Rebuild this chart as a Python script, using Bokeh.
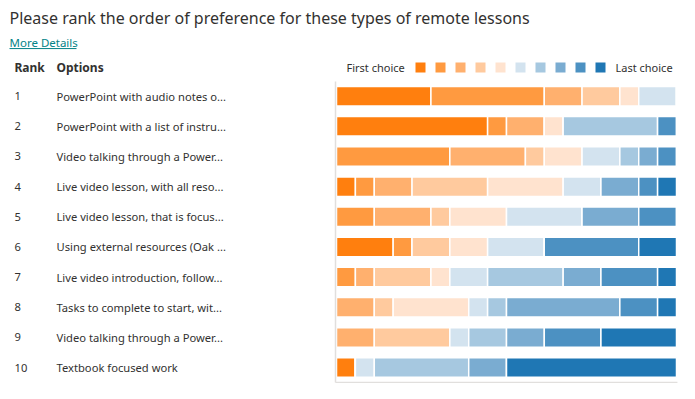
from bokeh.plotting import figure
from bokeh.models import Range1d, ColumnDataSource
from bokeh.core.properties import value
from bokeh.embed import file_html
from bokeh.resources import INLINE

title_text = "Please rank the order of preference for these types of remote lessons"
ranks = [1, 2, 3, 4, 5, 6, 7, 8, 9, 10]
options = [
    "PowerPoint with audio notes o...",
    "PowerPoint with a list of instru...",
    "Video talking through a Power...",
    "Live video lesson, with all reso...",
    "Live video lesson, that is focus...",
    "Using external resources (Oak ...",
    "Live video introduction, follow...",
    "Tasks to complete to start, wit...",
    "Video talking through a Power...",
    "Textbook focused work",
]
choice_1 = [5, 8, 0, 1, 0, 3, 0, 0, 0, 1]
choice_2 = [6, 1, 6, 1, 2, 1, 1, 0, 0, 0]
choice_3 = [2, 2, 4, 2, 3, 0, 1, 2, 2, 0]
choice_4 = [2, 0, 1, 4, 1, 2, 3, 1, 4, 0]
choice_5 = [1, 1, 2, 4, 3, 2, 1, 4, 0, 0]
choice_6 = [2, 0, 2, 2, 4, 3, 2, 1, 1, 1]
choice_7 = [0, 5, 1, 0, 0, 0, 4, 1, 2, 5]
choice_8 = [0, 0, 1, 2, 3, 0, 2, 6, 2, 2]
choice_9 = [0, 1, 1, 1, 2, 5, 3, 2, 3, 0]
choice_10 = [0, 0, 0, 1, 0, 2, 1, 1, 4, 9]
colors = ["#ff7f0e", "#ff9a40", "#ffb06e", "#ffca9e", "#ffe3cf",
          "#d3e3ef", "#a6c8e0", "#7aacd1", "#4c91c2", "#1f77b4"]
total = 18

W, H = 679, 383
FONT = "Noto Sans"
TXT = "#323130"

# layout geometry (canvas pixels)
K = 0.971


def yy(v):
    return 17 + (v - 18) * K


BAR_L, BAR_R = 336, 676
S = (BAR_R - BAR_L) / total
XS = -BAR_L / S
XE = (W - BAR_L) / S
ROW = 31.06 * K
ROW1 = yy(99)
YT = 1 - ROW1 / ROW
YB = YT + H / ROW


def px(x):
    return XS + x / S


def py(y):
    return YT + y / ROW


p = figure(width=W, height=H, output_backend="svg", toolbar_location=None,
           x_range=Range1d(XS, XE), y_range=Range1d(YB, YT),
           min_border=0, min_border_left=0, min_border_right=0,
           min_border_top=0, min_border_bottom=0)
p.axis.visible = False
p.grid.visible = False
p.outline_line_color = None
p.background_fill_color = "white"

names = [f"c{i+1}" for i in range(10)]
data = dict(rank=ranks)
for n, arr in zip(names, [choice_1, choice_2, choice_3, choice_4, choice_5,
                          choice_6, choice_7, choice_8, choice_9, choice_10]):
    data[n] = arr
src = ColumnDataSource(data)
p.hbar_stack(names, y="rank", height=19.5 / ROW, color=colors, source=src,
             line_color="white", line_width=1.5)

# axis lines
p.segment(x0=[px(335), px(335)], y0=[py(yy(84)), py(yy(394))],
          x1=[px(335), total + 0.05], y1=[py(yy(394)), py(yy(394))],
          line_color="#e1dfdd", line_width=1.5)

# title
p.text(x=[px(9)], y=[py(yy(18))], text=[title_text], text_font=value(FONT),
       text_font_size="16px", text_color=TXT, text_baseline="middle")
# More details link
p.text(x=[px(9)], y=[py(yy(44))], text=["More Details"], text_font=value(FONT),
       text_font_size="11.5px", text_color="#038387", text_baseline="middle")
p.segment(x0=[px(9)], y0=[py(yy(50))], x1=[px(76)], y1=[py(yy(50))],
          line_color="#038387", line_width=1)

# headers
p.text(x=[px(14), px(56)], y=[py(yy(70))] * 2, text=["Rank", "Options"],
       text_font=value(FONT), text_font_size="12px", text_font_style="bold",
       text_color=TXT, text_baseline="middle")

# rows
p.text(x=[px(14)] * len(ranks), y=ranks, text=[str(r) for r in ranks],
       text_font=value(FONT), text_font_size="11.2px", text_color=TXT,
       text_baseline="middle")
p.text(x=[px(56)] * len(ranks), y=ranks, text=options,
       text_font=value(FONT), text_font_size="11.2px", text_color=TXT,
       text_baseline="middle")

# legend
p.text(x=[px(346)], y=[py(yy(69.5))], text=["First choice"], text_font=value(FONT),
       text_font_size="11px", text_color=TXT, text_baseline="middle")
p.text(x=[px(615)], y=[py(yy(69.5))], text=["Last choice"], text_font=value(FONT),
       text_font_size="11px", text_color=TXT, text_baseline="middle")
p.rect(x=[px(420 + 20 * i) for i in range(10)], y=[py(yy(69.5))] * 10,
       width=10, height=10, width_units="screen", height_units="screen",
       color=colors, line_color=None)

open("out.html", "w").write(file_html(p, INLINE))
